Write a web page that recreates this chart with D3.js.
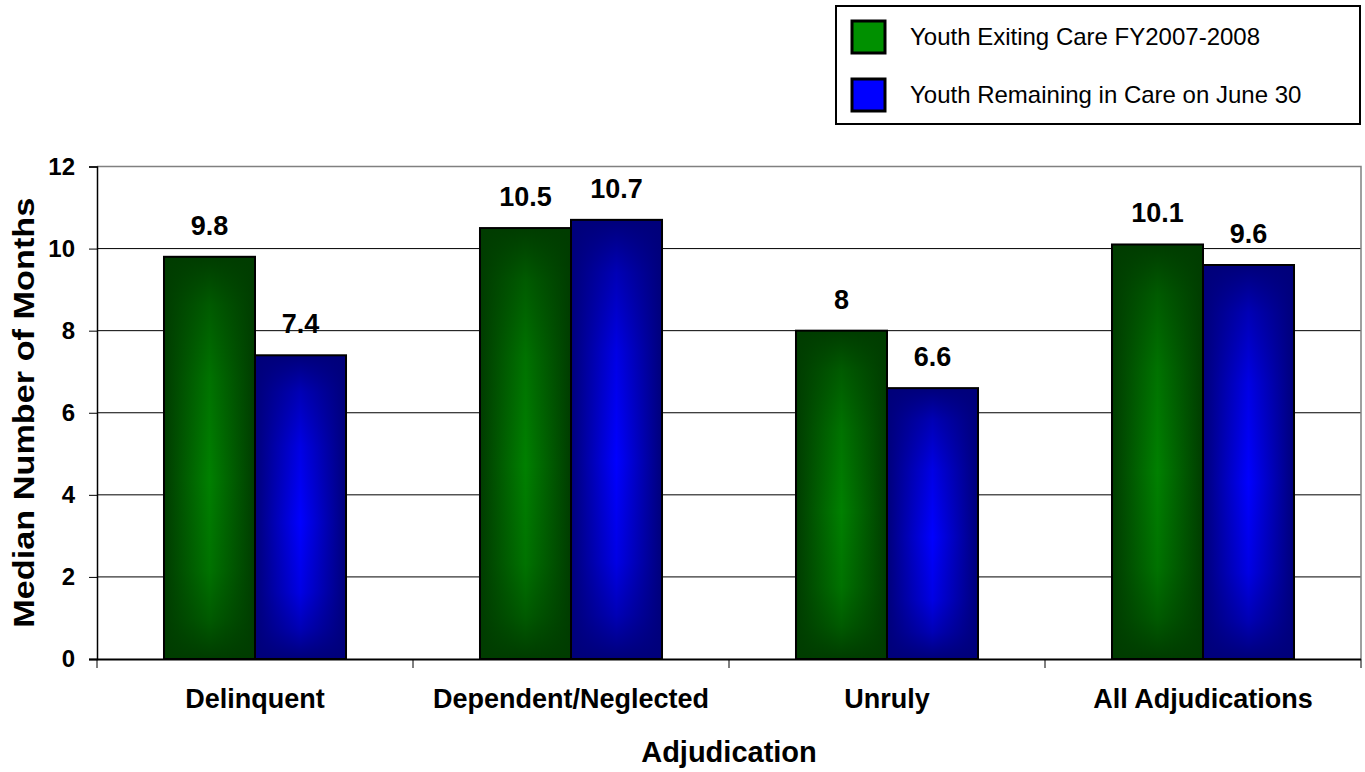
<!DOCTYPE html>
<html>
<head>
<meta charset="utf-8">
<script src="https://cdn.jsdelivr.net/npm/d3@7/dist/d3.min.js"></script>
<style>
  html, body { margin: 0; padding: 0; background: #fff; }
  svg { display: block; font-family: "Liberation Sans", Arial, sans-serif; }
</style>
</head>
<body>
<svg id="chart" width="1365" height="772"></svg>
<script>
// Median months in care by adjudication type
const categories = ["Delinquent", "Dependent/Neglected", "Unruly", "All Adjudications"];
const seriesNames = ["Youth Exiting Care FY2007-2008", "Youth Remaining in Care on June 30"];
const exitingValues = [9.8, 10.5, 8, 10.1];
const remainingValues = [7.4, 10.7, 6.6, 9.6];
const yTicks = [0, 2, 4, 6, 8, 10, 12];

const seriesValues = [exitingValues, remainingValues];
const palette = [
  { bright: "#008000", dark: "#003c00", swatch: "#009000" },
  { bright: "#0000ff", dark: "#00007a", swatch: "#0000ff" }
];

const svg = d3.select("#chart");
const plot = { left: 97, right: 1361, top: 166.5, bottom: 659 };

const x0 = d3.scaleBand().domain(categories).range([plot.left, plot.right]).padding(0);
const x1 = d3.scaleBand().domain(d3.range(seriesNames.length))
  .range([0, x0.bandwidth()]).paddingInner(0).paddingOuter(0.736);
const y = d3.scaleLinear().domain([0, 12]).range([plot.bottom, plot.top]);

// Gradients: horizontal dark-bright-dark fill, plus a vertical darkening overlay
const defs = svg.append("defs");
palette.forEach((p, i) => {
  const h = defs.append("linearGradient").attr("id", "hg" + i)
    .attr("x1", 0).attr("x2", 1).attr("y1", 0).attr("y2", 0);
  h.append("stop").attr("offset", 0).attr("stop-color", p.dark);
  h.append("stop").attr("offset", 0.5).attr("stop-color", p.bright);
  h.append("stop").attr("offset", 1).attr("stop-color", p.dark);

  const v = defs.append("linearGradient").attr("id", "vg" + i)
    .attr("x1", 0).attr("x2", 0).attr("y1", 0).attr("y2", 1);
  [[0, 1], [0.12, 0.55], [0.3, 0.2], [0.55, 0], [0.78, 0.2], [0.9, 0.55], [1, 1]]
    .forEach(([o, a]) => v.append("stop").attr("offset", o)
      .attr("stop-color", p.dark).attr("stop-opacity", a));
});

// Gridlines
svg.append("g").selectAll("line").data(yTicks.filter(t => t > 0 && t < 12)).join("line")
  .attr("x1", plot.left).attr("x2", plot.right)
  .attr("y1", d => y(d)).attr("y2", d => y(d))
  .attr("stroke", "#000").attr("stroke-width", 1);

// Plot-area frame (top and right)
svg.append("path")
  .attr("d", `M${plot.left},${y(12)}H${plot.right}V${plot.bottom}`)
  .attr("fill", "none").attr("stroke", "#808080").attr("stroke-width", 1.5);

// Bars
const groups = svg.append("g").selectAll("g").data(categories).join("g")
  .attr("transform", d => `translate(${x0(d)},0)`);

seriesNames.forEach((s, si) => {
  const bar = groups.append("g");
  bar.append("rect")
    .attr("x", x1(si)).attr("width", x1.bandwidth())
    .attr("y", (d, ci) => y(seriesValues[si][ci]))
    .attr("height", (d, ci) => y(0) - y(seriesValues[si][ci]))
    .attr("fill", `url(#hg${si})`);
  bar.append("rect")
    .attr("x", x1(si)).attr("width", x1.bandwidth())
    .attr("y", (d, ci) => y(seriesValues[si][ci]))
    .attr("height", (d, ci) => y(0) - y(seriesValues[si][ci]))
    .attr("fill", `url(#vg${si})`)
    .attr("stroke", "#000").attr("stroke-width", 2);
  bar.append("text")
    .attr("x", x1(si) + x1.bandwidth() / 2)
    .attr("y", (d, ci) => y(seriesValues[si][ci]) - 22)
    .attr("text-anchor", "middle")
    .attr("font-size", 27).attr("font-weight", "bold").attr("fill", "#000")
    .text((d, ci) => String(seriesValues[si][ci]));
});

// Y axis
const yAxis = svg.append("g").attr("transform", `translate(${plot.left},0)`)
  .call(d3.axisLeft(y).tickValues(yTicks).tickSize(8).tickPadding(14).tickFormat(d3.format("d")));
yAxis.select(".domain").attr("stroke", "#000").attr("stroke-width", 1.5);
yAxis.selectAll(".tick line").attr("stroke", "#000");
yAxis.selectAll(".tick text")
  .attr("font-size", 24).attr("font-weight", "bold").attr("fill", "#000")
  .attr("font-family", "Liberation Sans, Arial, sans-serif");

// X axis with ticks at category boundaries
const xAxis = svg.append("g").attr("transform", `translate(0,${plot.bottom})`)
  .call(d3.axisBottom(x0).tickSize(0).tickPadding(30));
xAxis.select(".domain").attr("d", `M${plot.left - 8},0.5H${plot.right}`)
  .attr("stroke", "#000").attr("stroke-width", 2);
xAxis.selectAll(".tick text")
  .attr("font-size", 27).attr("font-weight", "bold").attr("fill", "#000")
  .attr("font-family", "Liberation Sans, Arial, sans-serif");
xAxis.append("g").selectAll("line")
  .data(categories.map(c => x0(c)).concat([plot.right])).join("line")
  .attr("x1", d => d).attr("x2", d => d).attr("y1", 0).attr("y2", 9)
  .attr("stroke", "#000").attr("stroke-width", 1);

// Axis titles
svg.append("text")
  .attr("x", (plot.left + plot.right) / 2).attr("y", 762)
  .attr("text-anchor", "middle")
  .attr("font-size", 29).attr("font-weight", "bold")
  .text("Adjudication");

svg.append("text")
  .attr("transform", `translate(34,${(plot.top + plot.bottom) / 2}) rotate(-90)`)
  .attr("text-anchor", "middle")
  .attr("font-size", 30).attr("font-weight", "bold")
  .attr("textLength", 430).attr("lengthAdjust", "spacingAndGlyphs")
  .text("Median Number of Months");

// Legend
const legend = svg.append("g");
legend.append("rect")
  .attr("x", 836).attr("y", 6).attr("width", 524).attr("height", 118)
  .attr("fill", "#fff").attr("stroke", "#000").attr("stroke-width", 2);
const items = legend.selectAll("g.item").data(seriesNames).join("g")
  .attr("class", "item")
  .attr("transform", (d, i) => `translate(0,${i * 58})`);
items.append("rect")
  .attr("x", 852).attr("y", 21).attr("width", 33).attr("height", 32)
  .attr("fill", (d, i) => palette[i].swatch)
  .attr("stroke", "#000").attr("stroke-width", 3);
items.append("text")
  .attr("x", 910).attr("y", 45)
  .attr("font-size", 24)
  .text(d => d);
</script>
</body>
</html>
